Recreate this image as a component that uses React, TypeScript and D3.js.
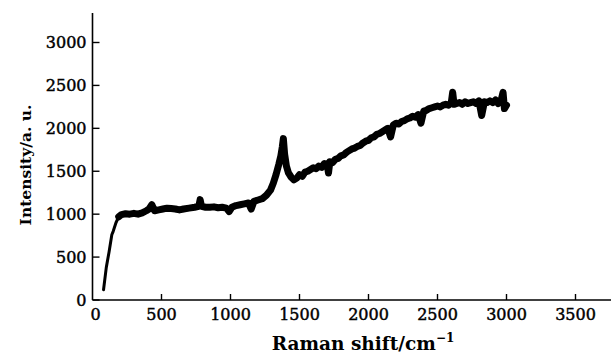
import React from "react";
import * as d3 from "d3";

const ramanShift = [80, 100, 120, 140, 150, 170, 190, 210, 240, 270, 300, 330, 360, 390, 410, 430, 450, 480, 510, 540, 570, 600, 630, 660, 700, 740, 770, 780, 790, 820, 850, 880, 910, 940, 970, 990, 1010, 1040, 1070, 1100, 1130, 1150, 1170, 1200, 1230, 1260, 1290, 1310, 1330, 1350, 1365, 1375, 1383, 1392, 1405, 1420, 1440, 1460, 1480, 1500, 1520, 1540, 1560, 1580, 1600, 1620, 1640, 1660, 1680, 1700, 1710, 1720, 1740, 1760, 1780, 1800, 1820, 1840, 1860, 1880, 1900, 1920, 1940, 1960, 1980, 2000, 2020, 2040, 2060, 2080, 2100, 2120, 2140, 2160, 2180, 2200, 2220, 2240, 2260, 2280, 2300, 2320, 2340, 2360, 2380, 2400, 2420, 2440, 2460, 2480, 2500, 2520, 2540, 2560, 2580, 2600, 2610, 2620, 2640, 2660, 2680, 2700, 2720, 2740, 2760, 2780, 2800, 2820, 2840, 2860, 2880, 2900, 2920, 2940, 2960, 2975, 2985, 3000];
const intensity = [120, 380, 560, 760, 800, 900, 970, 995, 1005, 1000, 1010, 1000, 1015, 1040, 1060, 1110, 1040, 1050, 1060, 1070, 1065, 1060, 1050, 1060, 1070, 1080, 1090, 1170, 1090, 1080, 1080, 1085, 1075, 1080, 1070, 1030, 1080, 1100, 1110, 1120, 1130, 1060, 1150, 1165, 1180, 1220, 1280, 1360, 1460, 1580, 1680, 1780, 1880, 1700, 1560, 1480, 1430, 1400, 1420, 1460, 1440, 1490, 1500, 1520, 1540, 1530, 1560, 1545, 1590, 1580, 1480, 1610, 1600, 1640, 1650, 1680, 1690, 1720, 1740, 1760, 1770, 1790, 1800, 1830, 1850, 1860, 1890, 1900, 1930, 1940, 1960, 1980, 2000, 1900, 2040, 2060, 2050, 2080, 2090, 2110, 2120, 2140, 2130, 2160, 2060, 2200, 2210, 2230, 2240, 2250, 2260, 2250, 2270, 2280, 2270, 2300, 2420, 2280, 2290, 2300, 2280, 2310, 2290, 2300, 2310, 2290, 2320, 2150, 2310, 2300, 2320, 2300, 2330, 2290, 2320, 2420, 2230, 2270];

const xTicks = [0, 500, 1000, 1500, 2000, 2500, 3000, 3500];
const yTicks = [0, 500, 1000, 1500, 2000, 2500, 3000];

export default function App() {
  const W = 613, H = 358;
  const x = d3.scaleLinear().domain([0, 3500]).range([92.5, 575.5]);
  const y = d3.scaleLinear().domain([0, 3000]).range([300, 42.5]);
  const pts = ramanShift.map((v, i) => [v, intensity[i]] as [number, number]);
  const line = d3.line<[number, number]>().x(d => x(d[0])).y(d => y(d[1]));
  const ramp = pts.filter(d => d[0] <= 210);
  const band = pts.filter(d => d[0] >= 190);
  const font = "'DejaVu Serif', serif";
  return (
    <svg width={W} height={H} style={{ position: "absolute", left: 0, top: 0, background: "#fff" }}>
      <rect width={W} height={H} fill="#fff" />
      <line x1={x(0)} x2={x(0)} y1={13} y2={y(0)} stroke="#000" strokeWidth={1.6} />
      <line x1={x(0)} x2={611} y1={y(0)} y2={y(0)} stroke="#000" strokeWidth={1.6} />
      {yTicks.map(t => (
        <g key={"y" + t}>
          <line x1={x(0)} x2={x(0) + 7} y1={y(t)} y2={y(t)} stroke="#000" strokeWidth={1.4} />
          <text x={x(0) - 6} y={y(t)} dy="0.36em" textAnchor="end" fontFamily={font} fontSize={16} fill="#000" stroke="#000" strokeWidth={0.45}>{t}</text>
        </g>
      ))}
      {xTicks.map(t => (
        <g key={"x" + t}>
          {t > 0 && <line x1={x(t)} x2={x(t)} y1={y(0)} y2={y(0) - 6} stroke="#000" strokeWidth={1.4} />}
          <text x={x(t) + (t === 0 ? 3 : 0)} y={320} textAnchor="middle" fontFamily={font} fontSize={16} fill="#000" stroke="#000" strokeWidth={0.45}>{t}</text>
        </g>
      ))}
      <path d={line(ramp) || ""} fill="none" stroke="#000" strokeWidth={3} strokeLinejoin="round" strokeLinecap="round" />
      <path d={line(band) || ""} fill="none" stroke="#000" strokeWidth={7} strokeLinejoin="round" strokeLinecap="round" />
      <text x={363} y={350} textAnchor="middle" fontFamily={font} fontSize={18.5} fontWeight="bold" fill="#000">
        Raman shift/cm<tspan dy={-8} fontSize={12}>−1</tspan>
      </text>
      <text transform="translate(31,165) rotate(-90)" textAnchor="middle" fontFamily={font} fontSize={15.5} fontWeight="bold" fill="#000">Intensity/a. u.</text>
    </svg>
  );
}
